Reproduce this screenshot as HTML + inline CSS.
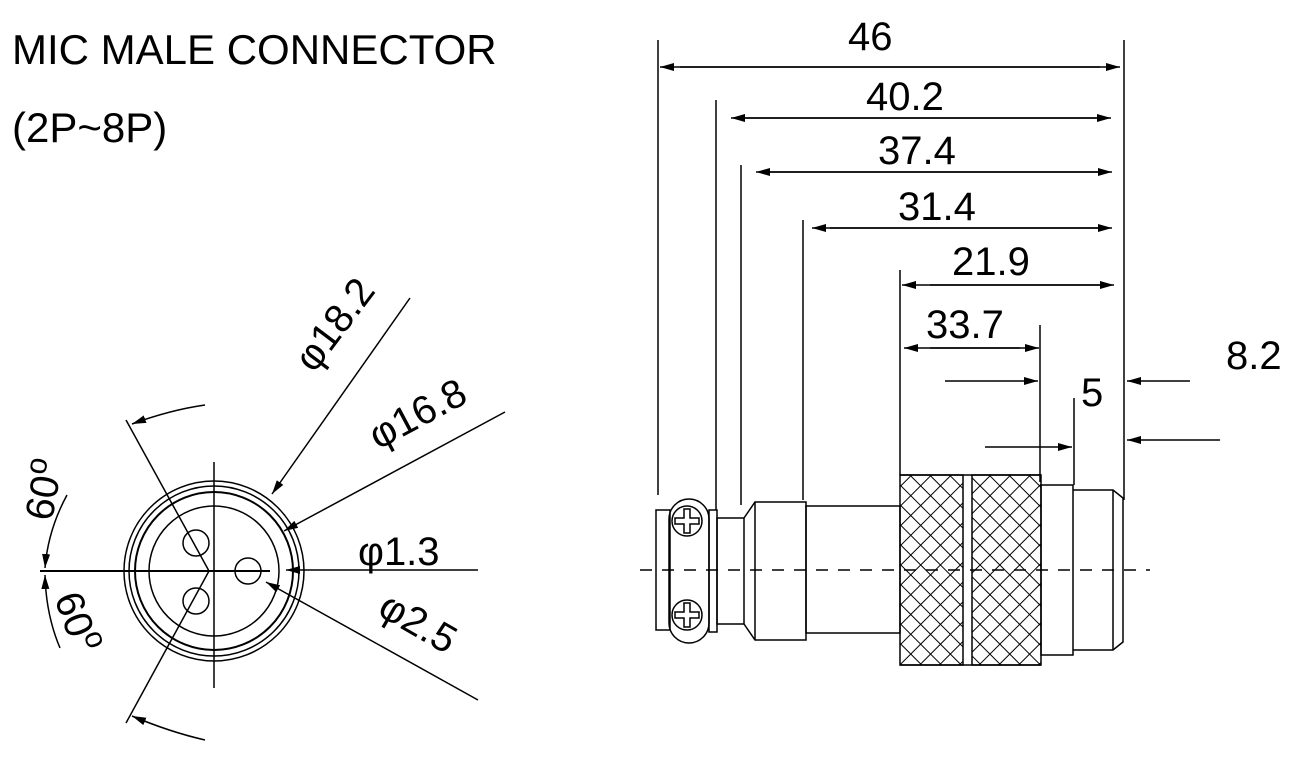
<!DOCTYPE html><html><head><style>body{margin:0;background:#fff}svg{display:block}text{font-family:"Liberation Sans",sans-serif;fill:#000}</style></head><body>
<svg width="1308" height="782" viewBox="0 0 1308 782" xmlns="http://www.w3.org/2000/svg">
<defs>
<marker id="a" markerWidth="14" markerHeight="8" refX="14" refY="4" orient="auto" markerUnits="userSpaceOnUse"><path d="M0,0L14,4L0,8z" fill="#000"/></marker>
<pattern id="k" width="14" height="14" patternUnits="userSpaceOnUse" patternTransform="rotate(45)"><path d="M0,0V14M0,0H14" stroke="#000" stroke-width="2"/></pattern>
</defs>
<text x="12" y="64" font-size="42">MIC MALE CONNECTOR</text>
<text x="12" y="142" font-size="42">(2P~8P)</text>
<g stroke="#000" fill="none" stroke-width="1.5">
<circle cx="214" cy="571" r="90"/><circle cx="214" cy="571" r="85"/><circle cx="214" cy="571" r="79" stroke-width="2"/><circle cx="214" cy="571" r="65"/>
<circle cx="196" cy="543" r="13"/><circle cx="196" cy="601" r="13"/><circle cx="248" cy="571" r="13"/>
<line x1="214" y1="462" x2="214" y2="688"/><line x1="40" y1="571" x2="270" y2="571" stroke-width="2"/>
<line x1="126" y1="420" x2="209" y2="571"/><line x1="209" y1="571" x2="126" y2="723"/>
<path d="M205,405 Q170,410 132,424" marker-end="url(#a)"/>
<path d="M205,740 Q170,732 132,716" marker-end="url(#a)"/>
<path d="M67,495 Q48,530 45,568" marker-end="url(#a)"/>
<path d="M60,648 Q46,615 45,575" marker-end="url(#a)"/>
<line x1="410" y1="298" x2="272" y2="494" marker-end="url(#a)"/>
<line x1="505" y1="412" x2="284" y2="531" marker-end="url(#a)"/>
<line x1="478" y1="570" x2="286" y2="570" marker-end="url(#a)"/>
<line x1="478" y1="700" x2="266" y2="582" marker-end="url(#a)"/>
<line x1="658" y1="40" x2="658" y2="495"/><line x1="716" y1="100" x2="716" y2="510"/><line x1="741" y1="165" x2="741" y2="505"/><line x1="803" y1="220" x2="803" y2="500"/><line x1="900" y1="270" x2="900" y2="475"/><line x1="1040" y1="325" x2="1040" y2="482"/><line x1="1074" y1="398" x2="1074" y2="485"/><line x1="1124" y1="40" x2="1124" y2="500"/>
<line x1="680" y1="67" x2="1120" y2="67" marker-end="url(#a)"/><line x1="1100" y1="67" x2="660" y2="67" marker-end="url(#a)"/>
<line x1="740" y1="118" x2="1111" y2="118" marker-end="url(#a)"/><line x1="1100" y1="118" x2="731" y2="118" marker-end="url(#a)"/>
<line x1="760" y1="172" x2="1112" y2="172" marker-end="url(#a)"/><line x1="1100" y1="172" x2="756" y2="172" marker-end="url(#a)"/>
<line x1="830" y1="228" x2="1112" y2="228" marker-end="url(#a)"/><line x1="1100" y1="228" x2="812" y2="228" marker-end="url(#a)"/>
<line x1="930" y1="285" x2="1114" y2="285" marker-end="url(#a)"/><line x1="1100" y1="285" x2="902" y2="285" marker-end="url(#a)"/>
<line x1="930" y1="348" x2="1039" y2="348" marker-end="url(#a)"/><line x1="1020" y1="348" x2="904" y2="348" marker-end="url(#a)"/>
<line x1="945" y1="381" x2="1038" y2="381" marker-end="url(#a)"/>
<line x1="1190" y1="381" x2="1127" y2="381" marker-end="url(#a)"/>
<line x1="985" y1="447" x2="1072" y2="447" marker-end="url(#a)"/>
<line x1="1220" y1="440" x2="1127" y2="440" marker-end="url(#a)"/>
<rect x="656" y="510" width="14" height="120"/>
<rect x="669" y="499" width="40" height="144" rx="20"/>
<circle cx="687" cy="521" r="15"/><circle cx="687" cy="615" r="15"/>
<path d="M684,509h6v9h9v6h-9v9h-6v-9h-9v-6h9z"/>
<path d="M684,603h6v9h9v6h-9v9h-6v-9h-9v-6h9z"/>
<rect x="709" y="510" width="8" height="122"/>
<rect x="717" y="518" width="27" height="106"/>
<path d="M744,518L755,502H806V640H755L744,624"/><line x1="755" y1="502" x2="755" y2="640"/>
<rect x="806" y="506" width="94" height="127"/>
<rect x="900" y="475" width="63" height="190" fill="url(#k)"/>
<rect x="972" y="475" width="69" height="190" fill="url(#k)"/>
<line x1="900" y1="475" x2="1041" y2="475"/><line x1="900" y1="665" x2="1041" y2="665"/>
<rect x="1041" y="485" width="32" height="170"/>
<path d="M1073,490H1113L1123,498V642L1113,650H1073"/><line x1="1113" y1="490" x2="1113" y2="650"/>
<line x1="640" y1="570" x2="1150" y2="570" stroke-dasharray="12,10"/>
</g>
<g font-size="40">
<text x="848" y="50">46</text><text x="866" y="110">40.2</text><text x="878" y="164">37.4</text><text x="898" y="220">31.4</text><text x="952" y="275">21.9</text><text x="926" y="338">33.7</text>
<text x="1226" y="369">8.2</text><text x="1081" y="406">5</text>
<text x="358" y="565">φ1.3</text>
<text transform="translate(314,374) rotate(-53)">φ18.2</text>
<text transform="translate(378,450) rotate(-28)">φ16.8</text>
<text transform="translate(376,614) rotate(30)">φ2.5</text>
<text transform="translate(52,522) rotate(-80)">60<tspan font-size="30" dy="-15">o</tspan></text>
<text transform="translate(54,598) rotate(70)">60<tspan font-size="30" dy="-15">o</tspan></text>
</g>
</svg></body></html>
